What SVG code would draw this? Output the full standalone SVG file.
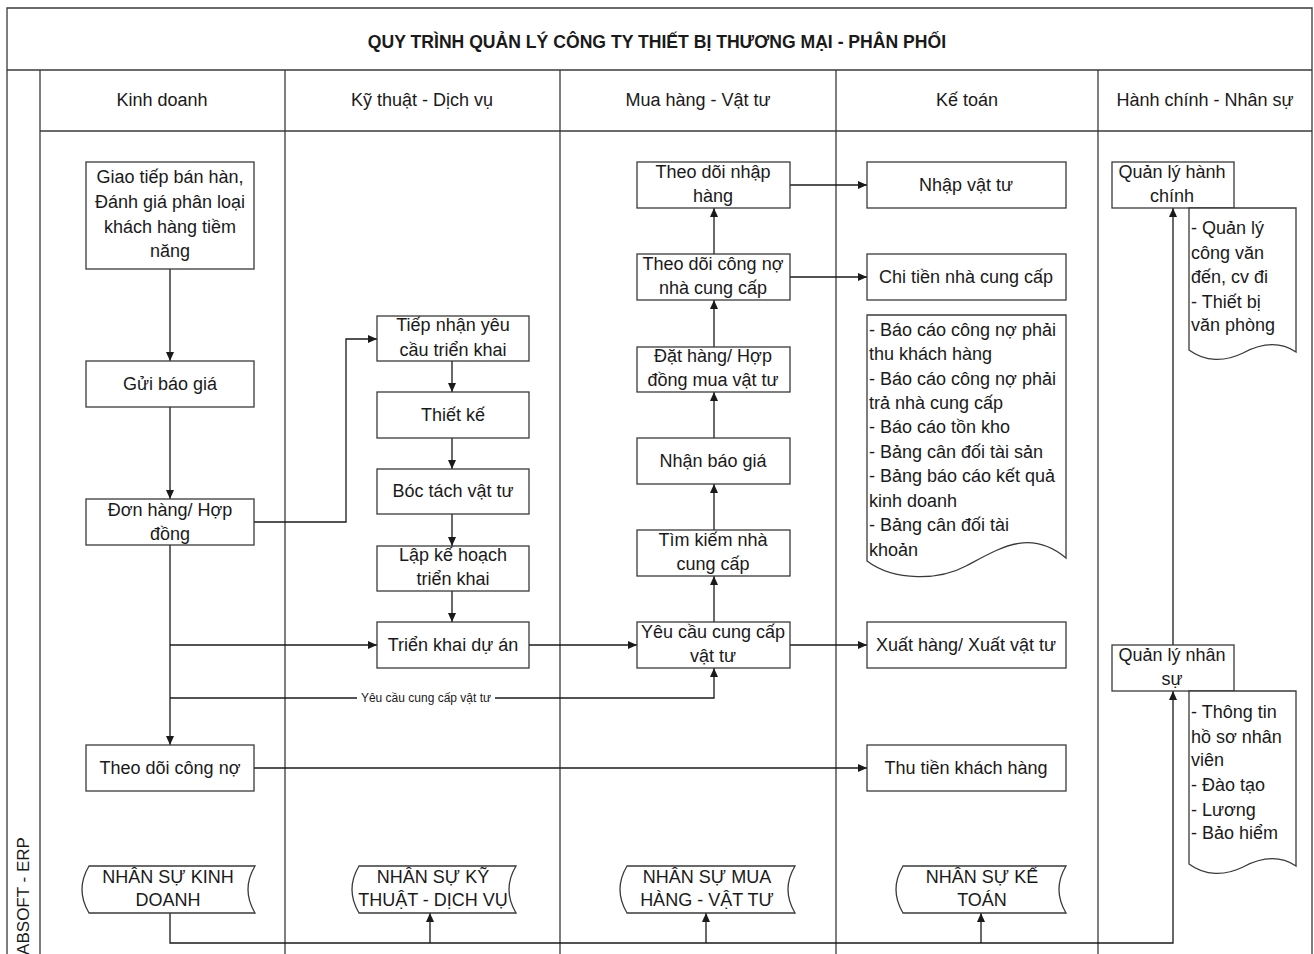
<svg xmlns="http://www.w3.org/2000/svg" width="1314" height="954" viewBox="0 0 1314 954">
<style>
  .frame{fill:none;stroke:#3a3a3a;stroke-width:1.3}
  .box{fill:#fff;stroke:#3a3a3a;stroke-width:1.3}
  .t{font-family:"Liberation Sans",Arial,sans-serif;font-size:18px;fill:#1a1a1a;text-anchor:middle}
  .tl{font-family:"Liberation Sans",Arial,sans-serif;font-size:18px;fill:#1a1a1a;text-anchor:start}
  .title{font-family:"Liberation Sans",Arial,sans-serif;font-size:17.6px;font-weight:bold;fill:#1a1a1a;text-anchor:middle}
  .small{font-family:"Liberation Sans",Arial,sans-serif;font-size:12px;fill:#1a1a1a;text-anchor:middle}
  .side{font-family:"Liberation Sans",Arial,sans-serif;font-size:17px;fill:#1a1a1a;text-anchor:middle}
  .c{fill:none;stroke:#1a1a1a;stroke-width:1.3}
</style>
<defs>
  <marker id="arr" markerUnits="userSpaceOnUse" markerWidth="9" markerHeight="8" refX="9" refY="4" orient="auto">
    <path d="M0,0 L9,4 L0,8 z" fill="#1a1a1a"/>
  </marker>
</defs>
<rect width="1314" height="954" fill="#fff"/>

<g id="frame">
  <path class="frame" d="M7,954 V8 H1312 V954"/>
  <path class="frame" d="M7,70 H1312"/>
  <path class="frame" d="M40,131 H1312"/>
  <path class="frame" d="M40,70 V954"/>
  <path class="frame" d="M285,70 V954"/>
  <path class="frame" d="M560,70 V954"/>
  <path class="frame" d="M836,70 V954"/>
  <path class="frame" d="M1098,70 V954"/>
  <text class="title" x="657" y="48">QUY TRÌNH QUẢN LÝ CÔNG TY THIẾT BỊ THƯƠNG MẠI - PHÂN PHỐI</text>
  <text class="t" x="162" y="106">Kinh doanh</text>
  <text class="t" x="422" y="106">Kỹ thuật - Dịch vụ</text>
  <text class="t" x="698" y="106">Mua hàng - Vật tư</text>
  <text class="t" x="967" y="106">Kế toán</text>
  <text class="t" x="1205" y="106">Hành chính - Nhân sự</text>
  <text class="side" transform="translate(29,896) rotate(-90)">ABSOFT - ERP</text>
</g>

<g id="connectors">
  <path class="c" d="M170,269 V361" marker-end="url(#arr)"/>
  <path class="c" d="M170,407 V499" marker-end="url(#arr)"/>
  <path class="c" d="M170,545 V745" marker-end="url(#arr)"/>
  <path class="c" d="M170,645 H377" marker-end="url(#arr)"/>
  <path class="c" d="M170,698 H357 M495,698 H714 V668" marker-end="url(#arr)"/>
  <text class="small" x="426" y="702">Yêu cầu cung cấp vật tư</text>
  <path class="c" d="M254,522 H346 V339 H377" marker-end="url(#arr)"/>
  <path class="c" d="M452,361 V392" marker-end="url(#arr)"/>
  <path class="c" d="M452,438 V469" marker-end="url(#arr)"/>
  <path class="c" d="M452,514 V546" marker-end="url(#arr)"/>
  <path class="c" d="M452,591 V622" marker-end="url(#arr)"/>
  <path class="c" d="M529,645 H637" marker-end="url(#arr)"/>
  <path class="c" d="M714,622 V576" marker-end="url(#arr)"/>
  <path class="c" d="M714,530 V484" marker-end="url(#arr)"/>
  <path class="c" d="M714,438 V392" marker-end="url(#arr)"/>
  <path class="c" d="M714,347 V300" marker-end="url(#arr)"/>
  <path class="c" d="M714,254 V208" marker-end="url(#arr)"/>
  <path class="c" d="M790,185 H867" marker-end="url(#arr)"/>
  <path class="c" d="M790,277 H867" marker-end="url(#arr)"/>
  <path class="c" d="M790,645 H867" marker-end="url(#arr)"/>
  <path class="c" d="M254,768 H867" marker-end="url(#arr)"/>
  <path class="c" d="M170,913 V943 H1173 V691" marker-end="url(#arr)"/>
  <path class="c" d="M430,943 V913" marker-end="url(#arr)"/>
  <path class="c" d="M706,943 V913" marker-end="url(#arr)"/>
  <path class="c" d="M981,943 V913" marker-end="url(#arr)"/>
  <path class="c" d="M1173,645 V208" marker-end="url(#arr)"/>
</g>

<!-- Kinh doanh -->
<g id="kd1"><rect class="box" x="86" y="162" width="168" height="107"/>
  <text class="t" x="170" y="183">Giao tiếp bán hàn,</text>
  <text class="t" x="170" y="208">Đánh giá phân loại</text>
  <text class="t" x="170" y="233">khách hàng tiềm</text>
  <text class="t" x="170" y="257">năng</text></g>
<g id="kd2"><rect class="box" x="86" y="361" width="168" height="46"/>
  <text class="t" x="170" y="390">Gửi báo giá</text></g>
<g id="kd3"><rect class="box" x="86" y="499" width="168" height="46"/>
  <text class="t" x="170" y="516">Đơn hàng/ Hợp</text>
  <text class="t" x="170" y="540">đồng</text></g>
<g id="kd4"><rect class="box" x="86" y="745" width="168" height="46"/>
  <text class="t" x="170" y="774">Theo dõi công nợ</text></g>

<!-- Ky thuat -->
<g id="kt1"><rect class="box" x="377" y="316" width="152" height="45"/>
  <text class="t" x="453" y="331">Tiếp nhận yêu</text>
  <text class="t" x="453" y="356">cầu triển khai</text></g>
<g id="kt2"><rect class="box" x="377" y="392" width="152" height="46"/>
  <text class="t" x="453" y="421">Thiết kế</text></g>
<g id="kt3"><rect class="box" x="377" y="469" width="152" height="45"/>
  <text class="t" x="453" y="497">Bóc tách vật tư</text></g>
<g id="kt4"><rect class="box" x="377" y="546" width="152" height="45"/>
  <text class="t" x="453" y="561">Lập kế hoạch</text>
  <text class="t" x="453" y="585">triển khai</text></g>
<g id="kt5"><rect class="box" x="377" y="622" width="152" height="46"/>
  <text class="t" x="453" y="651">Triển khai dự án</text></g>

<!-- Mua hang -->
<g id="mh1"><rect class="box" x="637" y="162" width="153" height="46"/>
  <text class="t" x="713" y="178">Theo dõi nhập</text>
  <text class="t" x="713" y="202">hàng</text></g>
<g id="mh2"><rect class="box" x="637" y="254" width="153" height="46"/>
  <text class="t" x="713" y="270">Theo dõi công nợ</text>
  <text class="t" x="713" y="294">nhà cung cấp</text></g>
<g id="mh3"><rect class="box" x="637" y="347" width="153" height="45"/>
  <text class="t" x="713" y="362">Đặt hàng/ Hợp</text>
  <text class="t" x="713" y="386">đồng mua vật tư</text></g>
<g id="mh4"><rect class="box" x="637" y="438" width="153" height="46"/>
  <text class="t" x="713" y="467">Nhận báo giá</text></g>
<g id="mh5"><rect class="box" x="637" y="530" width="153" height="46"/>
  <text class="t" x="713" y="546">Tìm kiếm nhà</text>
  <text class="t" x="713" y="570">cung cấp</text></g>
<g id="mh6"><rect class="box" x="637" y="622" width="153" height="46"/>
  <text class="t" x="713" y="638">Yêu cầu cung cấp</text>
  <text class="t" x="713" y="662">vật tư</text></g>

<!-- Ke toan -->
<g id="ktn1"><rect class="box" x="867" y="162" width="199" height="46"/>
  <text class="t" x="966" y="191">Nhập vật tư</text></g>
<g id="ktn2"><rect class="box" x="867" y="254" width="199" height="46"/>
  <text class="t" x="966" y="283">Chi tiền nhà cung cấp</text></g>
<g id="ktn3"><path class="box" d="M867,315 H1066 V558 C1030,528 1000,548 966,566 C940,580 895,582 867,561 Z"/>
  <text class="tl" x="869" y="336">- Báo cáo công nợ phải</text>
  <text class="tl" x="869" y="360">thu khách hàng</text>
  <text class="tl" x="869" y="385">- Báo cáo công nợ phải</text>
  <text class="tl" x="869" y="409">trả nhà cung cấp</text>
  <text class="tl" x="869" y="433">- Báo cáo tồn kho</text>
  <text class="tl" x="869" y="458">- Bảng cân đối tài sản</text>
  <text class="tl" x="869" y="482">- Bảng báo cáo kết quả</text>
  <text class="tl" x="869" y="507">kinh doanh</text>
  <text class="tl" x="869" y="531">- Bảng cân đối tài</text>
  <text class="tl" x="869" y="556">khoản</text></g>
<g id="ktn4"><rect class="box" x="867" y="622" width="199" height="46"/>
  <text class="t" x="966" y="651">Xuất hàng/ Xuất vật tư</text></g>
<g id="ktn5"><rect class="box" x="867" y="745" width="199" height="46"/>
  <text class="t" x="966" y="774">Thu tiền khách hàng</text></g>

<!-- Hanh chinh -->
<g id="hc1"><rect class="box" x="1112" y="162" width="122" height="46"/>
  <text class="t" x="1172" y="178">Quản lý hành</text>
  <text class="t" x="1172" y="202">chính</text></g>
<g id="hc2"><path class="box" d="M1189,208 H1296 V352 C1278,340 1260,344 1243,353 C1225,362 1205,362 1189,350 Z"/>
  <text class="tl" x="1191" y="234">- Quản lý</text>
  <text class="tl" x="1191" y="259">công văn</text>
  <text class="tl" x="1191" y="283">đến, cv đi</text>
  <text class="tl" x="1191" y="308">- Thiết bị</text>
  <text class="tl" x="1191" y="331">văn phòng</text></g>
<g id="hc3"><rect class="box" x="1112" y="645" width="122" height="46"/>
  <text class="t" x="1172" y="661">Quản lý nhân</text>
  <text class="t" x="1172" y="685">sự</text></g>
<g id="hc4"><path class="box" d="M1189,691 H1296 V866 C1278,854 1260,858 1243,867 C1225,876 1205,876 1189,864 Z"/>
  <text class="tl" x="1191" y="718">- Thông tin</text>
  <text class="tl" x="1191" y="743">hồ sơ nhân</text>
  <text class="tl" x="1191" y="766">viên</text>
  <text class="tl" x="1191" y="791">- Đào tạo</text>
  <text class="tl" x="1191" y="816">- Lương</text>
  <text class="tl" x="1191" y="839">- Bảo hiểm</text></g>

<!-- Nhan su stored data -->
<g id="ns1"><path class="box" d="M89,866 H255 Q241,889.5 255,913 H89 Q75,889.5 89,866 Z"/>
  <text class="t" x="168" y="883">NHÂN SỰ KINH</text>
  <text class="t" x="168" y="906">DOANH</text></g>
<g id="ns2"><path class="box" d="M359,866 H516 Q502,889.5 516,913 H359 Q345,889.5 359,866 Z"/>
  <text class="t" x="433" y="883">NHÂN SỰ KỸ</text>
  <text class="t" x="433" y="906">THUẬT - DỊCH VỤ</text></g>
<g id="ns3"><path class="box" d="M627,866 H795 Q781,889.5 795,913 H627 Q613,889.5 627,866 Z"/>
  <text class="t" x="707" y="883">NHÂN SỰ MUA</text>
  <text class="t" x="707" y="906">HÀNG - VẬT TƯ</text></g>
<g id="ns4"><path class="box" d="M903,866 H1066 Q1052,889.5 1066,913 H903 Q889,889.5 903,866 Z"/>
  <text class="t" x="982" y="883">NHÂN SỰ KẾ</text>
  <text class="t" x="982" y="906">TOÁN</text></g>
</svg>
